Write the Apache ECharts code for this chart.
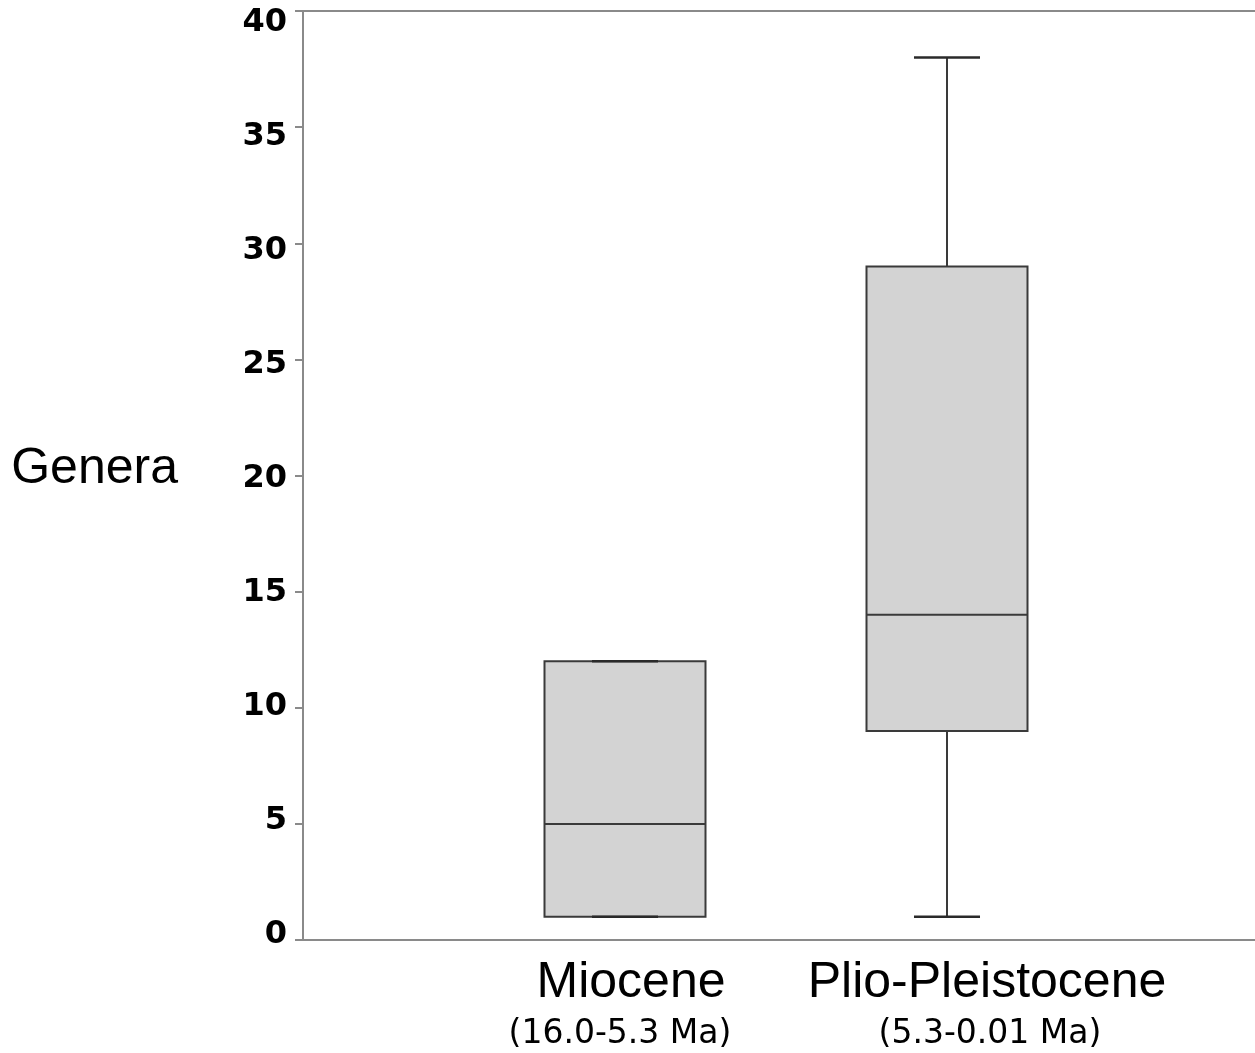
<!DOCTYPE html>
<html>
<head>
<meta charset="utf-8">
<script src="https://cdn.jsdelivr.net/npm/echarts@6/dist/echarts.min.js"></script>
<style>
  html, body { margin: 0; padding: 0; background: #fff; }
  #chart { width: 1255px; height: 1053px; }
</style>
</head>
<body>
<div id="chart"></div>
<script>
// ---- data ----
const categories = ['', 'Miocene', 'Plio-Pleistocene', ''];
const subLabels = { 'Miocene': '(16.0-5.3 Ma)', 'Plio-Pleistocene': '(5.3-0.01 Ma)' };
const boxCategoryIndex = [1, 2];
const mins = [1, 1];
const q1s = [1, 9];
const medians = [5, 14];
const q3s = [12, 29];
const maxs = [12, 38];
const yTicks = [0, 5, 10, 15, 20, 25, 30, 35, 40];

const boxData = boxCategoryIndex.map((c, i) => [c, mins[i], q1s[i], medians[i], q3s[i], maxs[i]]);

const chart = echarts.init(document.getElementById('chart'));
const lineColor = '#3a3a3a';
const axisColor = '#8a8a8a';

const option = {
  animation: false,
  backgroundColor: '#fff',
  grid: { left: 303, top: 11, right: -14, bottom: 113, containLabel: false, outerBoundsMode: 'none' },
  xAxis: [{
    type: 'category',
    data: categories,
    boundaryGap: false,
    position: 'bottom',
    axisLine: { show: true, onZero: false, lineStyle: { color: axisColor, width: 2 } },
    axisTick: { show: false },
    splitLine: { show: false },
    axisLabel: {
      interval: 0,
      margin: 14,
      color: '#000',
      formatter: function (v) {
        if (v === 'Miocene') return '{a1|' + v + '}\n{b1|' + subLabels[v] + '}';
        if (v === 'Plio-Pleistocene') return '{a2|' + v + '}\n{b2|' + subLabels[v] + '}';
        return '';
      },
      rich: {
        a1: { fontFamily: 'Liberation Sans', fontSize: 50, lineHeight: 58, color: '#000', padding: [0, 0, 0, 12] },
        b1: { fontFamily: 'DejaVu Sans', fontSize: 33, lineHeight: 44, color: '#000', padding: [0, 10, 0, 0] },
        a2: { fontFamily: 'Liberation Sans', fontSize: 50, lineHeight: 58, color: '#000', padding: [0, 0, 0, 80] },
        b2: { fontFamily: 'DejaVu Sans', fontSize: 33, lineHeight: 44, color: '#000', padding: [0, 0, 0, 86] }
      }
    }
  }, {
    type: 'category',
    data: categories,
    boundaryGap: false,
    position: 'top',
    axisLine: { show: true, onZero: false, lineStyle: { color: axisColor, width: 2 } },
    axisTick: { show: false },
    axisLabel: { show: false },
    splitLine: { show: false }
  }],
  yAxis: [{
    type: 'value',
    min: 0,
    max: 40,
    interval: 5,
    name: 'Genera',
    nameLocation: 'middle',
    nameRotate: 0,
    nameGap: 125,
    nameTextStyle: { fontFamily: 'Liberation Sans', fontSize: 50, color: '#000', verticalAlign: 'bottom', lineHeight: 12 },
    axisLine: { show: true, onZero: false, lineStyle: { color: axisColor, width: 2 } },
    axisTick: { show: true, length: 8, lineStyle: { color: axisColor, width: 2 } },
    splitLine: { show: false },
    axisLabel: { show: false }
  }, {
    // label-only axis: the original figure's tick labels sit slightly off their ticks
    type: 'value',
    position: 'left',
    min: -0.22,
    max: 40.5,
    axisLine: { show: false, onZero: false },
    axisTick: { show: false },
    splitLine: { show: false },
    axisLabel: {
      margin: 16,
      color: '#000',
      fontFamily: 'DejaVu Sans',
      fontWeight: 'bold',
      fontSize: 32,
      customValues: yTicks
    }
  }],
  series: [{
    type: 'custom',
    xAxisIndex: 0,
    yAxisIndex: 0,
    data: boxData,
    encode: { x: 0, y: [1, 2, 3, 4, 5] },
    renderItem: function (params, api) {
      const x = api.value(0);
      const band = api.size([1, 0])[0];
      const boxW = band * 0.5;
      const capW = band * 0.205;
      const pMin = api.coord([x, api.value(1)]);
      const pQ1 = api.coord([x, api.value(2)]);
      const pMed = api.coord([x, api.value(3)]);
      const pQ3 = api.coord([x, api.value(4)]);
      const pMax = api.coord([x, api.value(5)]);
      const cx = pMed[0];
      const ls = { stroke: lineColor, lineWidth: 2 };
      return {
        type: 'group',
        children: [
          { type: 'line', shape: { x1: cx, y1: pQ3[1], x2: cx, y2: pMax[1] }, style: ls },
          { type: 'line', shape: { x1: cx, y1: pQ1[1], x2: cx, y2: pMin[1] }, style: ls },
          { type: 'rect', shape: { x: cx - boxW / 2, y: pQ3[1], width: boxW, height: pQ1[1] - pQ3[1] },
            style: { fill: '#d3d3d3', stroke: lineColor, lineWidth: 2 } },
          { type: 'line', shape: { x1: cx - boxW / 2, y1: pMed[1], x2: cx + boxW / 2, y2: pMed[1] }, style: ls },
          { type: 'line', shape: { x1: cx - capW / 2, y1: pMax[1], x2: cx + capW / 2, y2: pMax[1] }, style: { stroke: '#2a2a2a', lineWidth: 2.5 } },
          { type: 'line', shape: { x1: cx - capW / 2, y1: pMin[1], x2: cx + capW / 2, y2: pMin[1] }, style: { stroke: '#2a2a2a', lineWidth: 2.5 } }
        ]
      };
    }
  }]
};
chart.setOption(option);
</script>
</body>
</html>
